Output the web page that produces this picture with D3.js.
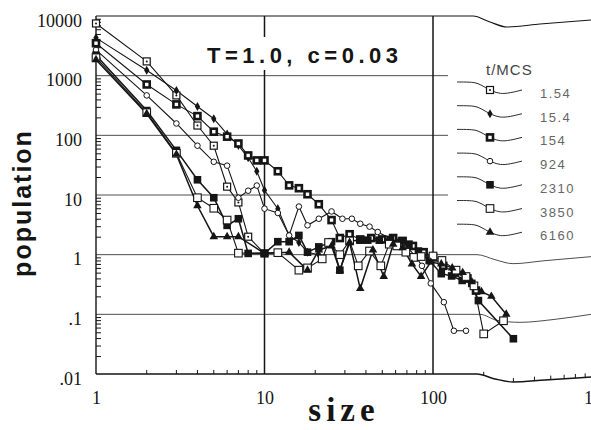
<!DOCTYPE html>
<html><head><meta charset="utf-8">
<script src="https://cdn.jsdelivr.net/npm/d3@7"></script>
<style>body{margin:0;background:#fff}svg{display:block}</style>
</head><body>
<svg id="c" width="591" height="430"></svg>
<script>
// ---- data ----
const xTicks = [1, 10, 100, 1000];
const xTickLabels = ["1", "10", "100", "1000"];
const yTicks = [0.01, 0.1, 1, 10, 100, 1000, 10000];
const yTickLabels = [".01", ".1", "1", "10", "100", "1000", "10000"];
const seriesNames = ["1.54", "15.4", "154", "924", "2310", "3850", "6160"];
const markerTypes = ["sqdot", "diamond", "thicksq", "circle", "fillsq", "opensq", "tri"];

const s1_54 = [[1,7500],[2,1735],[3,467],[4,146],[5,67],[6,13.8],[7,7.5],[8,2],[10,1.05]];
const s15_4 = [[1,4300],[2,1230],[3,565],[4,305],[5,190],[6,105],[7,68],[8,42],[9,25],[10,12],[12,5.9],[14,2.1],[16,1.6],[18,1.1],[21,1.0]];
const s154 = [[1,3500],[2,712],[3,330],[4,210],[5,115],[6,95],[7,73],[8,46],[9,38],[10,38],[12,25],[14,14.5],[16,13],[18,10.3],[21,7],[25,3.8],[28,1.9],[32,2.2],[37,1.8],[43,1.9],[50,1.8],[58,1.9],[66,1.7],[76,1.4],[88,1.1],[100,0.9],[115,0.65],[135,0.5],[160,0.4],[180,0.25]];
const s924 = [[1,2700],[2,467],[3,158],[4,67],[5,36],[6,31],[7,9],[8,11.8],[9,14.4],[10,5.9],[12,5],[14,2.1],[16,6.4],[18,3.1],[21,4],[25,5.3],[29,4],[33,4],[37,3.3],[42,2.95],[47,2.4],[65,1.5],[70,1.35],[79,0.93],[86,0.65],[97,0.33],[116,0.16],[133,0.053],[157,0.053]];
const s2310 = [[1,2200],[2,260],[3,56],[4,18],[5,9],[6,3.1],[7,4],[8,1.05],[10,1.05],[12,1.65],[14,1.65],[16,2.1],[18,1.1],[21,1.35],[25,1.65],[28,0.55],[32,1.7],[37,1.75],[41,1.75],[48,1.75],[56,1.8],[65,1.7],[72,1.5],[82,1.15],[95,0.8],[112,0.48],[129,0.44],[149,0.37],[170,0.33],[186,0.17],[300,0.039]];
const s3850 = [[1,2000],[2,240],[3,50],[4,9],[5,6],[6,3.8],[7,1.06],[12,1.08],[16,0.55],[18,0.6],[22,0.85],[24,1.6],[28,1.0],[32,1.7],[36,0.65],[42,1.15],[49,0.65],[55,1.5],[61,1.4],[69,1.1],[77,0.9],[85,0.93],[100,0.95],[113,0.8],[137,0.55],[157,0.43],[175,0.3],[200,0.047],[262,0.078]];
const s6160 = [[1,1850],[2,230],[3,48],[4,6.6],[5,2],[6,2],[7,2],[10,1.05],[14,1.1],[18,0.55],[21,1.2],[25,1.4],[28,0.55],[32,1.6],[37,0.27],[44,1.2],[51,0.43],[58,1.5],[66,1.3],[75,0.7],[85,0.43],[97,0.75],[112,0.7],[130,0.6],[150,0.5],[170,0.35],[194,0.24],[222,0.2],[272,0.1]];
const seriesData = [s1_54, s15_4, s154, s924, s2310, s3850, s6160];

// ---- layout ----
const svg = d3.select("#c");
const X0 = 96, XMAX = 601.5, YTOP = 16, YBOT = 374;
const x = d3.scaleLog().domain([1, 1000]).range([X0, XMAX]);
const y = d3.scaleLog().domain([0.01, 10000]).range([YBOT, YTOP]);
const ink = "#151515";
const serif = "'Liberation Serif','DejaVu Serif',serif";
const sans = "'Liberation Sans',Arial,sans-serif";

const waveLine = d3.line().curve(d3.curveMonotoneX);
function wavy(yv, xStart, pts) {
  return [[X0, yv], [xStart, yv]].concat(pts.map(d => [d[0], yv + d[1]]));
}
function interpY(pts, px) {
  for (let i = 1; i < pts.length; i++) {
    if (px <= pts[i][0]) {
      const a = pts[i-1], b = pts[i];
      return a[1] + (b[1]-a[1]) * (px-a[0])/(b[0]-a[0]);
    }
  }
  return pts[pts.length-1][1];
}

const gGrid = svg.append("g");
[1000, 100, 10].forEach(v => {
  gGrid.append("line").attr("x1", X0).attr("x2", 448)
    .attr("y1", y(v)).attr("y2", y(v))
    .attr("stroke", "#3a3a3a").attr("stroke-width", 0.9);
});
const wave1 = wavy(y(1), 477, [[495, 5], [513, 9], [545, 6], [591, 2]]);
const wave01 = wavy(y(0.1), 480, [[497, 6], [520, 8], [555, 5], [591, 0]]);
[wave1, wave01].forEach(p => gGrid.append("path").attr("d", waveLine(p))
  .attr("fill", "none").attr("stroke", "#3a3a3a").attr("stroke-width", 0.9));
const waveTop = wavy(YTOP, 473, [[490, 6], [507, 11], [540, 8], [591, 4]]);
gGrid.append("path").attr("d", waveLine(waveTop)).attr("fill", "none")
  .attr("stroke", ink).attr("stroke-width", 1.2);
const waveBot = wavy(YBOT, 477, [[495, 5], [513, 8], [545, 6], [591, 3]]);
gGrid.append("path").attr("d", waveLine(waveBot)).attr("fill", "none")
  .attr("stroke", ink).attr("stroke-width", 1.4);
gGrid.append("line").attr("x1", X0).attr("x2", X0).attr("y1", YTOP).attr("y2", YBOT)
  .attr("stroke", ink).attr("stroke-width", 1.4);
[10, 100].forEach(v => gGrid.append("line").attr("x1", x(v)).attr("x2", x(v))
  .attr("y1", YTOP).attr("y2", YBOT).attr("stroke", ink).attr("stroke-width", 1.5));

// minor ticks
const yMinor = [];
for (let e = -2; e < 4; e++) for (let k = 2; k <= 9; k++) yMinor.push(k * Math.pow(10, e));
const gy = svg.append("g").attr("transform", `translate(${X0},0)`)
  .call(d3.axisLeft(y).tickValues(yMinor).tickSize(-5).tickFormat(""));
gy.select(".domain").remove();
gy.selectAll("line").attr("stroke", ink).attr("stroke-width", 1);

const xMinor = [];
for (let e = 0; e < 3; e++) for (let k = 2; k <= 9; k++) xMinor.push(k * Math.pow(10, e));
xMinor.forEach(v => {
  const px = x(v);
  const by = interpY(waveBot, px);
  svg.append("line").attr("x1", px).attr("x2", px).attr("y1", by).attr("y2", by - 4)
    .attr("stroke", ink).attr("stroke-width", 1);
});

// tick labels
const gyl = svg.append("g").attr("transform", `translate(${X0},0)`)
  .call(d3.axisLeft(y).tickValues(yTicks).tickFormat((d, i) => yTickLabels[i]).tickSize(0).tickPadding(14));
gyl.select(".domain").remove();
gyl.selectAll("text").attr("font-family", serif).attr("font-size", 18)
  .attr("fill", ink).attr("dy", "0.95em").attr("y", -7);

const gxl = svg.append("g").attr("transform", `translate(0,${YBOT})`)
  .call(d3.axisBottom(x).tickValues(xTicks).tickFormat((d, i) => xTickLabels[i]).tickSize(0).tickPadding(17));
gxl.select(".domain").remove();
gxl.selectAll("text").attr("font-family", serif).attr("font-size", 18).attr("fill", ink);

// axis titles
svg.append("text").attr("x", 344).attr("y", 421).attr("text-anchor", "middle")
  .attr("font-family", serif).attr("font-weight", "bold").attr("font-size", 33)
  .attr("letter-spacing", 5).attr("fill", ink).text("size");
svg.append("text").attr("transform", "translate(31,203) rotate(-90)")
  .attr("text-anchor", "middle").attr("font-family", sans).attr("font-weight", "bold")
  .attr("font-size", 25).attr("letter-spacing", 2).attr("fill", ink).text("population");

// title with white background
svg.append("rect").attr("x", 200).attr("y", 37).attr("width", 212).attr("height", 33).attr("fill", "#fff");
svg.append("text").attr("x", 207).attr("y", 63).attr("font-family", sans)
  .attr("font-weight", "bold").attr("font-size", 22).attr("letter-spacing", 4.5)
  .attr("fill", ink).text("T=1.0, c=0.03");

// markers
function drawMarker(g, type, cx, cy) {
  const s = 7;
  if (type === "sqdot") {
    g.append("rect").attr("x", cx - s/2).attr("y", cy - s/2).attr("width", s).attr("height", s)
      .attr("fill", "#fff").attr("stroke", ink).attr("stroke-width", 1.2);
    g.append("circle").attr("cx", cx).attr("cy", cy).attr("r", 1).attr("fill", ink);
  } else if (type === "diamond") {
    g.append("path").attr("transform", `translate(${cx},${cy})`)
      .attr("d", d3.symbol().type(d3.symbolDiamond).size(24)()).attr("fill", ink);
  } else if (type === "thicksq") {
    g.append("rect").attr("x", cx - 3).attr("y", cy - 3).attr("width", 6).attr("height", 6)
      .attr("fill", "#fff").attr("stroke", ink).attr("stroke-width", 2.6);
  } else if (type === "circle") {
    g.append("circle").attr("cx", cx).attr("cy", cy).attr("r", 2.8)
      .attr("fill", "#fff").attr("stroke", ink).attr("stroke-width", 1);
  } else if (type === "fillsq") {
    g.append("rect").attr("x", cx - 3.8).attr("y", cy - 3.8).attr("width", 7.6).attr("height", 7.6)
      .attr("fill", ink);
  } else if (type === "opensq") {
    g.append("rect").attr("x", cx - 3.8).attr("y", cy - 3.8).attr("width", 7.6).attr("height", 7.6)
      .attr("fill", "#fff").attr("stroke", ink).attr("stroke-width", 1.1);
  } else if (type === "tri") {
    g.append("path").attr("transform", `translate(${cx},${cy})`)
      .attr("d", d3.symbol().type(d3.symbolTriangle).size(32)()).attr("fill", ink);
  }
}

// data lines
const line = d3.line().x(d => x(d[0])).y(d => y(d[1]));
const gData = svg.append("g");
seriesData.forEach((s, i) => {
  gData.append("path").attr("d", line(s)).attr("fill", "none")
    .attr("stroke", ink).attr("stroke-width", i === 4 || i === 6 ? 1.5 : 1.1);
});
seriesData.forEach((s, i) => {
  s.forEach(d => drawMarker(gData, markerTypes[i], x(d[0]), y(d[1])));
});

// legend
const gLeg = svg.append("g");
gLeg.append("text").attr("x", 486).attr("y", 75).attr("font-family", sans)
  .attr("font-size", 15).attr("letter-spacing", 1).attr("fill", "#444").text("t/MCS");
const legLine = d3.line().curve(d3.curveBasis);
seriesNames.forEach((name, i) => {
  const c = 93 + i * 23.7;
  const pts = [[457, c - 11], [470, c - 11], [478, c - 10], [486, c - 5], [492, c - 2], [500, c + 1], [510, c + 0], [522, c - 3]];
  gLeg.append("path").attr("d", legLine(pts)).attr("fill", "none")
    .attr("stroke", "#2a2a2a").attr("stroke-width", 1);
  drawMarker(gLeg, markerTypes[i], 490, c - 3);
  gLeg.append("text").attr("x", 540).attr("y", c + 5).attr("font-family", sans)
    .attr("font-size", 13).attr("letter-spacing", 1.5).attr("fill", "#666").text(name);
});
</script>
</body></html>
